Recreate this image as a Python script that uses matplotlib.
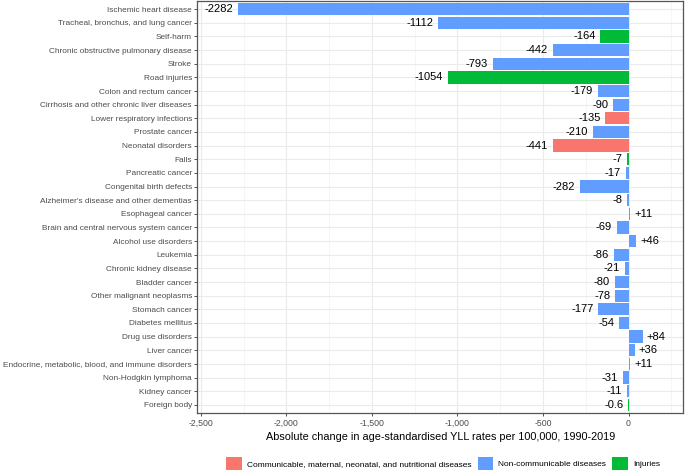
import matplotlib
matplotlib.use("Agg")
import matplotlib.pyplot as plt
from matplotlib.patches import Patch
from matplotlib.ticker import MultipleLocator, FuncFormatter

plt.rcParams['font.family'] = ['Liberation Sans', 'DejaVu Sans']

# causes, top to bottom
causes = [
    "Ischemic heart disease",
    "Tracheal, bronchus, and lung cancer",
    "Self-harm",
    "Chronic obstructive pulmonary disease",
    "Stroke",
    "Road injuries",
    "Colon and rectum cancer",
    "Cirrhosis and other chronic liver diseases",
    "Lower respiratory infections",
    "Prostate cancer",
    "Neonatal disorders",
    "Falls",
    "Pancreatic cancer",
    "Congenital birth defects",
    "Alzheimer's disease and other dementias",
    "Esophageal cancer",
    "Brain and central nervous system cancer",
    "Alcohol use disorders",
    "Leukemia",
    "Chronic kidney disease",
    "Bladder cancer",
    "Other malignant neoplasms",
    "Stomach cancer",
    "Diabetes mellitus",
    "Drug use disorders",
    "Liver cancer",
    "Endocrine, metabolic, blood, and immune disorders",
    "Non-Hodgkin lymphoma",
    "Kidney cancer",
    "Foreign body",
]
change = [-2282, -1112, -164, -442, -793, -1054, -179, -90, -135, -210,
          -441, -7, -17, -282, -8, 11, -69, 46, -86, -21,
          -80, -78, -177, -54, 84, 36, 11, -31, -11, -0.6]
labels = ["-2282", "-1112", "-164", "-442", "-793", "-1054", "-179", "-90", "-135", "-210",
          "-441", "-7", "-17", "-282", "-8", "+11", "-69", "+46", "-86", "-21",
          "-80", "-78", "-177", "-54", "+84", "+36", "+11", "-31", "-11", "-0.6"]
group = ["NCD", "NCD", "INJ", "NCD", "NCD", "INJ", "NCD", "NCD", "CMNN", "NCD",
         "CMNN", "INJ", "NCD", "NCD", "NCD", "NCD", "NCD", "NCD", "NCD", "NCD",
         "NCD", "NCD", "NCD", "NCD", "NCD", "NCD", "NCD", "NCD", "NCD", "INJ"]

group_names = {
    "CMNN": "Communicable, maternal, neonatal, and nutritional diseases",
    "NCD": "Non-communicable diseases",
    "INJ": "Injuries",
}
colors = {"CMNN": "#F8766D", "NCD": "#619CFF", "INJ": "#00BA38"}

fig = plt.figure(figsize=(6.85, 4.71), dpi=100)
ax = fig.add_axes([0.2883, 0.1231, 0.7087, 0.8748])

n = len(causes)
ypos = [n - i for i in range(n)]
ax.barh(ypos, change, height=0.9, color=[colors[g] for g in group],
        edgecolor="none", zorder=3)

for y, v, lab in zip(ypos, change, labels):
    if v >= 0:
        ax.annotate(lab, (v, y), xytext=(4, 0), textcoords="offset pixels",
                    ha="left", va="center", fontsize=8, color="black")
    else:
        ax.annotate(lab, (v, y), xytext=(-5, 0), textcoords="offset pixels",
                    ha="right", va="center", fontsize=8, color="black")

ax.set_xlim(-2520, 318)
ax.set_ylim(0.4, n + 0.6)
ax.set_yticks(ypos)
ax.set_yticklabels(causes, fontsize=5.95, color="#4D4D4D")
ax.xaxis.set_major_locator(MultipleLocator(500))
ax.xaxis.set_minor_locator(MultipleLocator(250))
ax.xaxis.set_major_formatter(FuncFormatter(lambda v, p: f"{int(v):,}"))
ax.tick_params(axis="x", which="major", labelsize=6.3, labelcolor="#4D4D4D",
               color="#333333", length=2.5, width=0.6, pad=2)
ax.tick_params(axis="x", which="minor", length=0)
ax.tick_params(axis="y", color="#333333", length=2.5, width=0.6, pad=1.5)

ax.grid(axis="x", which="major", color="#EBEBEB", linewidth=0.8, zorder=0)
ax.grid(axis="x", which="minor", color="#F2F2F2", linewidth=0.5, zorder=0)
ax.grid(axis="y", which="major", color="#EBEBEB", linewidth=0.8, zorder=0)
ax.set_axisbelow(True)
for s in ax.spines.values():
    s.set_color("#555555")
    s.set_linewidth(0.9)

ax.set_xlabel("Absolute change in age-standardised YLL rates per 100,000, 1990-2019",
              fontsize=7.8, color="black", labelpad=3)

handles = [Patch(facecolor=colors[k], edgecolor="none", label=group_names[k])
           for k in ["CMNN", "NCD", "INJ"]]
fig.legend(handles=handles, loc="lower center", bbox_to_anchor=(0.647, -0.014), ncol=3,
           frameon=False, fontsize=6.0, handlelength=1.9, handleheight=2.0,
           handletextpad=0.6, columnspacing=0.7)

fig.savefig("out.png", dpi=100)
